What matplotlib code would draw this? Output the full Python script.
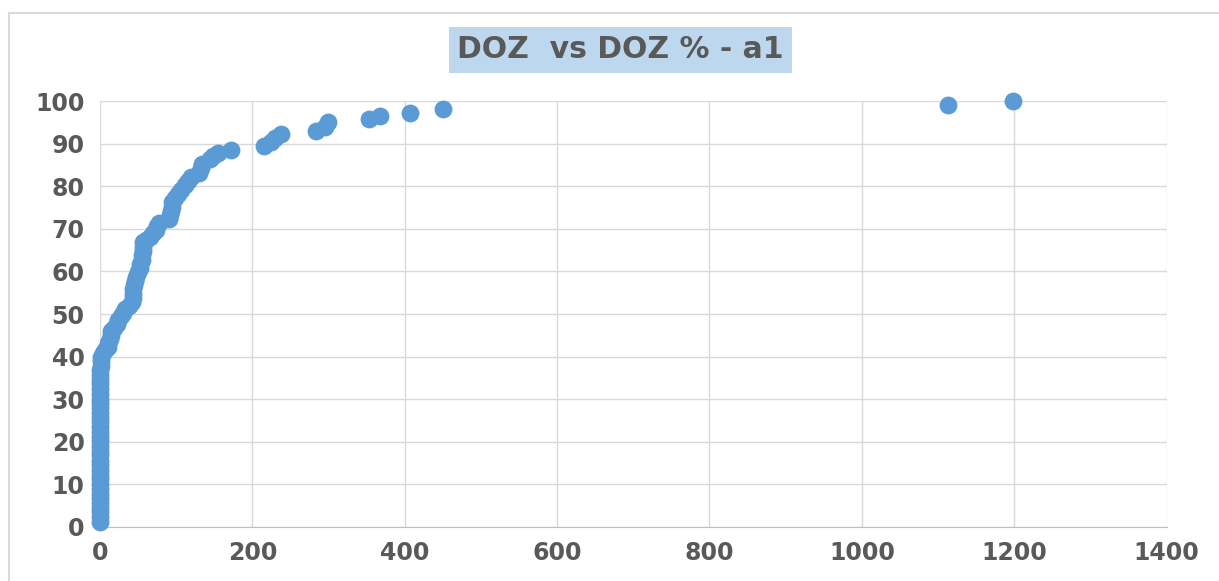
import matplotlib.pyplot as plt
from matplotlib.lines import Line2D

# DOZ values (x) and cumulative DOZ % (y)
doz = [0] * 33 + [1, 1,
       2, 4, 7, 10, 11, 13, 14, 15, 18, 22, 24, 27, 30, 33, 38, 42, 43, 44, 44,
       45, 46, 47, 50, 52, 53, 55, 55, 56, 57, 57, 60, 66, 70, 74, 75, 77, 90,
       92, 93, 94, 95, 98, 103, 107, 112, 116, 120, 130, 133, 134, 145, 148, 155,
       172, 215, 225, 230, 237, 284, 295, 299, 353, 367, 407, 450, 1113, 1199]
doz_pct = [1.2, 2.3, 3.4, 4.5, 5.6, 6.7, 7.8, 9.0, 10.1, 11.2, 12.3, 13.4, 14.5,
           15.6, 16.8, 17.9, 19.0, 20.1, 21.2, 22.3, 23.4, 24.6, 25.7, 26.8, 27.9,
           29.0, 30.1, 31.2, 32.4, 33.5, 34.6, 35.7, 36.8, 37.9, 39.0,
           40.0, 40.8, 41.5, 42.3, 43.2, 44.2, 45.0, 46.0, 46.8, 47.6, 48.6, 49.5,
           50.3, 51.2, 52.0, 52.8, 53.8, 54.8, 55.8, 56.8, 57.8, 58.8, 59.8, 60.8,
           61.8, 62.8, 63.8, 64.8, 65.8, 66.8, 67.5, 68.2, 69.0, 69.8, 70.6, 71.3,
           72.2, 73.2, 74.2, 75.2, 76.2, 77.2, 78.2, 79.2, 80.2, 81.2, 82.2, 83.2,
           84.2, 85.2, 86.3, 87.0, 87.8, 88.5, 89.5, 90.5, 91.3, 92.2, 93.0, 94.0,
           95.0, 95.7, 96.4, 97.3, 98.2, 99.1, 100.0]

x_ticks = [0, 200, 400, 600, 800, 1000, 1200, 1400]
y_ticks = list(range(0, 101, 10))

text_col = '#595959'

fig = plt.figure(figsize=(12.19, 5.81), dpi=100)
ax = fig.add_axes([0.082, 0.093, 0.875, 0.733])

ax.scatter(doz, doz_pct, s=165, color='#5B9BD5', linewidths=0, zorder=3, clip_on=False)

ax.set_xlim(0, 1400)
ax.set_ylim(0, 100)
ax.set_xticks(x_ticks)
ax.set_yticks(y_ticks)
ax.grid(True, color='#d9d9d9', linewidth=1)
ax.set_axisbelow(True)
for s in ['top', 'right', 'left']:
    ax.spines[s].set_visible(False)
ax.spines['bottom'].set_color('#bfbfbf')
ax.tick_params(length=0, labelsize=17, labelcolor=text_col)
ax.tick_params(axis='y', pad=11)
ax.tick_params(axis='x', pad=10)
for lbl in ax.get_xticklabels() + ax.get_yticklabels():
    lbl.set_fontweight('bold')

fig.text(0.509, 0.914, 'DOZ  vs DOZ % - a1', ha='center', va='center',
         fontsize=21.5, fontweight='bold', color=text_col,
         bbox=dict(boxstyle='square,pad=0.28', facecolor='#BDD7EE', edgecolor='none'))

# outer chart border (clipped at right and bottom in the original)
fig.add_artist(Line2D([9 / 1219, 1], [1 - 13 / 581, 1 - 13 / 581], color='#d9d9d9', linewidth=1.5))
fig.add_artist(Line2D([9 / 1219, 9 / 1219], [0, 1 - 13 / 581], color='#d9d9d9', linewidth=1.5))

fig.savefig('out.png', dpi=100)
